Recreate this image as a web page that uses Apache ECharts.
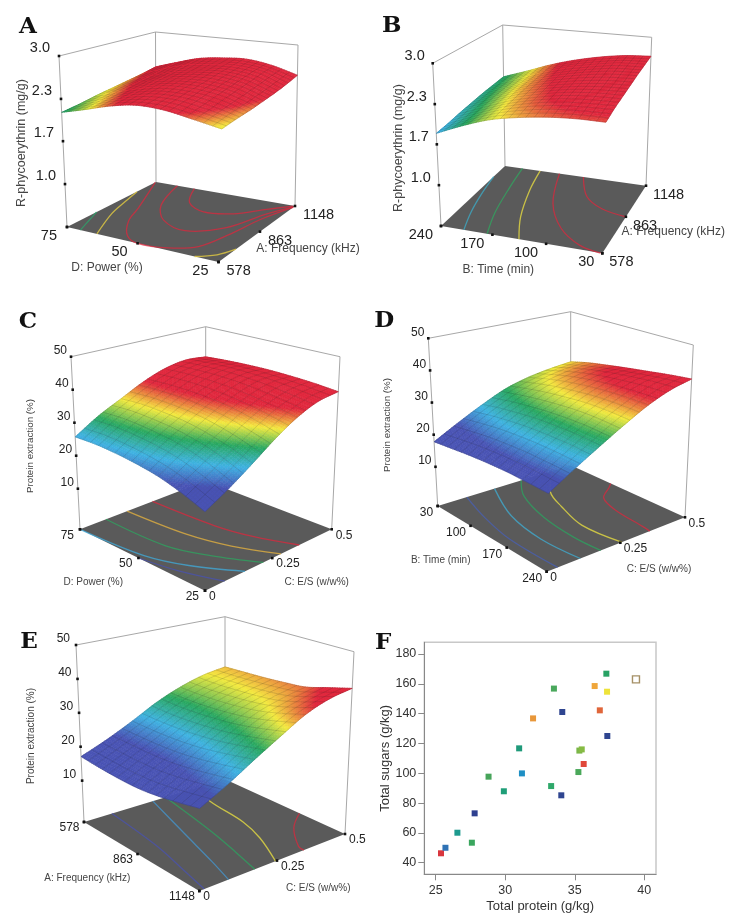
<!DOCTYPE html>
<html>
<head>
<meta charset="utf-8">
<style>html,body{margin:0;padding:0;background:#fff}#chart{width:731px;height:922px}</style>
<script src="https://cdn.jsdelivr.net/npm/echarts@6/dist/echarts.min.js"></script>
</head>
<body>
<div id="chart"></div>
<script>
// Response surfaces: each row runs along the left-to-front floor edge, rows step towards the back.
const surfaceA = [
  [2.12,2.22,2.33,2.40,2.39,2.32,2.24],
  [2.16,2.27,2.38,2.45,2.45,2.38,2.28],
  [2.21,2.32,2.43,2.50,2.50,2.44,2.31],
  [2.25,2.37,2.48,2.54,2.55,2.49,2.35],
  [2.29,2.41,2.52,2.58,2.60,2.54,2.39],
  [2.33,2.46,2.57,2.62,2.64,2.59,2.44],
  [2.38,2.50,2.61,2.66,2.68,2.62,2.50]
];
const surfaceB = [
  [1.85,2.03,2.18,2.27,2.33,2.36,2.36],
  [1.88,2.05,2.21,2.32,2.39,2.42,2.43],
  [1.92,2.08,2.24,2.35,2.43,2.47,2.48],
  [1.95,2.11,2.27,2.38,2.46,2.51,2.53],
  [1.98,2.13,2.29,2.41,2.50,2.56,2.58],
  [2.00,2.15,2.31,2.44,2.53,2.60,2.62],
  [2.02,2.17,2.33,2.46,2.56,2.63,2.66]
];
const surfaceC = [
  [25.7,25.8,25.4,24.6,23.4,21.4,18.8],
  [30.0,30.2,29.8,29.0,27.6,25.4,22.6],
  [33.4,33.7,33.4,32.8,31.5,29.6,27.0],
  [36.8,37.0,36.9,36.4,35.4,33.7,31.7],
  [39.3,39.6,39.6,39.2,38.4,37.2,35.7],
  [40.4,40.8,41.0,40.8,40.3,39.4,38.4],
  [39.8,40.3,40.6,40.7,40.5,40.1,39.4]
];
const surfaceD = [
  [17.8,18.4,19.0,19.4,19.6,19.5,19.3],
  [21.9,22.8,23.6,24.0,24.2,24.1,23.8],
  [25.7,26.8,27.6,28.2,28.4,28.4,28.0],
  [29.0,30.2,31.2,31.9,32.4,32.4,32.0],
  [31.0,32.6,33.9,34.8,35.4,35.6,35.6],
  [32.2,34.0,35.5,36.6,37.4,38.0,38.2],
  [33.0,34.6,35.8,36.9,37.9,38.9,39.7]
];
const surfaceE = [
  [17.1,16.6,16.3,16.3,16.9,18.0,19.3],
  [20.2,20.1,20.0,20.2,20.9,22.0,23.2],
  [23.8,23.7,23.8,24.2,25.0,26.2,27.6],
  [27.7,27.5,27.7,28.2,29.0,30.3,31.8],
  [30.7,30.6,30.8,31.3,32.2,33.8,35.8],
  [32.8,32.7,33.0,33.4,34.2,36.0,38.3],
  [33.9,34.2,34.5,35.0,35.7,37.6,39.5]
];

// Floor contours: response level plus a path in coded factor space (0 to 1 along each factor).
const contoursA = [
  {level:2.13, path:[[.10,0],[.05,.15],[0,.30]]},
  {level:2.26, path:[[.22,0],[.10,.32],[.045,.55],[0,.76]]},
  {level:2.40, path:[[0,.99],[.186,.49],[.26,.27],[.385,.07],[.5,0],[.68,.03],[.81,.13],[.87,.36],[.92,.68],[1,.97]]},
  {level:2.50, path:[[.17,1],[.28,.61],[.43,.39],[.63,.30],[.81,.46],[.91,.78],[1,.98]]},
  {level:2.60, path:[[.30,1],[.41,.74],[.57,.63],[.74,.69],[.87,.85],[.99,.99]]},
  {level:2.26, path:[[.86,0],[.95,.08],[1,.20]]}
];
const contoursB = [
  {level:1.90, path:[[.15,0],[.09,.23],[.04,.5],[0,.8]]},
  {level:2.05, path:[[.30,0],[.23,.28],[.17,.67],[.13,1]]},
  {level:2.22, path:[[.50,0],[.40,.28],[.31,.67],[.26,1]]},
  {level:2.42, path:[[.99,0],[.85,.05],[.68,.22],[.52,.53],[.40,1]]},
  {level:2.55, path:[[1,.50],[.83,.56],[.69,.70],[.57,1]]}
];
const contoursC = [
  {level:37.5, path:[[0,.55],[.5,.57],[.75,.62],[1,.72]]},
  {level:34.3, path:[[0,.35],[.47,.38],[.75,.45],[1,.57]]},
  {level:29.8, path:[[0,.19],[.49,.20],[.75,.29],[1,.43]]},
  {level:26.0, path:[[0,0],[.5,.04],[.75,.13],[1,.29]]},
  {level:22.0, path:[[.5,0],[.75,.05],[1,.14]]}
];
const contoursD = [
  {level:22.0, path:[[0,.20],[.3,.12],[.6,.07],[1,.07]]},
  {level:25.5, path:[[0,.40],[.37,.25],[.7,.20],[1,.22]]},
  {level:29.0, path:[[0,.60],[.2,.47],[.5,.38],[.79,.35],[1,.36]]},
  {level:32.75, path:[[0,.85],[.25,.63],[.45,.55],[.71,.48],[1,.51]]},
  {level:36.5, path:[[.38,1],[.42,.95],[.515,.82],[.68,.76],[.94,.73],[1,.72]]}
];
const contoursE = [
  {level:21.0, path:[[0,.18],[.49,.13],[.8,.07],[1,.03]]},
  {level:24.0, path:[[0,.46],[.47,.33],[.8,.24],[1,.18]]},
  {level:29.0, path:[[0,.55],[.55,.457],[.8,.40],[1,.35]]},
  {level:33.0, path:[[0,.78],[.2,.716],[.54,.675],[.75,.61],[1,.49]]},
  {level:37.0, path:[[.65,1],[.77,.84],[.95,.70],[1,.69]]}
];

// Axis ticks of the five surface plots.
const ticksPower = [75,50,25];
const ticksFrequency = [578,863,1148];
const ticksTimeDown = [240,170,100,30];
const ticksTimeUp = [30,100,170,240];
const ticksRatio = [0,0.25,0.5];
const ticksPhycoerythrin = [1.0,1.67,2.33,3.0];
const ticksExtraction = [10,20,30,40,50];

// Scatter of total protein against total sugars.
const totalProtein = [25.38,25.7,26.56,27.6,27.8,28.8,29.9,31,31.2,32,33.3,33.5,34.03,34.1,35.26,35.33,35.5,35.64,36.43,36.8,37.27,37.32,37.34,39.4];
const totalSugars = [46.3,50,60.1,53.4,73.1,97.7,87.9,116.7,99.9,136.8,91.4,156.8,85.2,141.1,100.8,115.2,116,106.2,158.5,142.2,166.8,154.7,125,163];
const sampleColors = ['#d9363e','#2f72b5','#1e9a8e','#3aa65e','#2e3f8f','#47a45a','#1f9e78','#1f9a7a','#1e8fc4','#e8973a','#2fa86a','#4aa85c','#2f4590','#2f4590','#4aa85a','#7ab648','#86bb44','#e0483a','#efa63a','#e0663a','#27a264','#eee33a','#2f4590','#ffffff'];

// Screen frame of every panel: floor corners (L, F, R, B) and the matching top corners.
const panels = [
  {letter:'A', lx:28, ly:27, surface:surfaceA, contours:contoursA, colorRange:[1.92,2.36], zRange:[0.33,3.0], zFmt:1, fineStep:3,
   L:[67,227], F:[218.5,262], R:[295,206], B:[156,182], Lt:[59,56], Ft:[223,76], Rt:[298,45], Bt:[155.5,32],
   zTicks:ticksPhycoerythrin, aTicks:ticksPower, aDomain:[75,25], bTicks:ticksFrequency, bDomain:[578,1148],
   tickFont:14.5, nameFont:12, zOff:[-9,-8], aOff:[-10,9], bOff:[8,9],
   zName:'R-phycoerythrin (mg/g)', zPos:[21.7,143], zFont:12.5,
   aName:'D: Power (%)', aPos:[107,268], bName:'A: Frequency (kHz)', bPos:[308,249]},
  {letter:'B', lx:391.7, ly:26, surface:surfaceB, contours:contoursB, colorRange:[1.7,2.39], zRange:[0.33,3.0], zFmt:1, fineStep:3,
   L:[441,226], F:[602.3,253.3], R:[646,185.7], B:[505,166], Lt:[432.7,63.3], Ft:[607,81], Rt:[651.7,37.3], Bt:[502.7,25],
   zTicks:ticksPhycoerythrin, aTicks:ticksTimeDown, aDomain:[240,30], bTicks:ticksFrequency, bDomain:[578,1148],
   tickFont:14.5, nameFont:12, zOff:[-8,-7], aOff:[-8,9], bOff:[7,9],
   zName:'R-phycoerythrin (mg/g)', zPos:[398.3,148], zFont:12.5,
   aName:'B: Time (min)', aPos:[498.3,269.3], bName:'A: Frequency (kHz)', bPos:[673.3,231.7]},
  {letter:'C', lx:28, ly:321.7, surface:surfaceC, contours:contoursC, colorRange:[22.5,37], zRange:[-2.3,50], fineStep:4,
   L:[80,529.3], F:[205,590.7], R:[331.7,529.3], B:[205.7,481], Lt:[71,356.7], Ft:[205,394.9], Rt:[340,356.7], Bt:[205.7,326.7],
   zTicks:ticksExtraction, aTicks:ticksPower, aDomain:[75,25], bTicks:ticksRatio, bDomain:[0,0.5],
   tickFont:12, nameFont:10, zOff:[-4,-6], aOff:[-6,6], bOff:[4,6],
   zName:'Protein extraction (%)', zPos:[30,446], zFont:9.8,
   aName:'D: Power (%)', aPos:[93.3,582.7], bName:'C: E/S (w/w%)', bPos:[316.7,582.7]},
  {letter:'D', lx:384.3, ly:320.7, surface:surfaceD, contours:contoursD, colorRange:[21.5,36.5], zRange:[-2.2,50], fineStep:4,
   L:[437.7,506], F:[546.7,571.7], R:[685,517.3], B:[570.7,465.3], Lt:[428.3,338.3], Ft:[550.6,381.5], Rt:[693.3,345], Bt:[570.7,311.7],
   zTicks:ticksExtraction, aTicks:ticksTimeUp, aDomain:[30,240], bTicks:ticksRatio, bDomain:[0,0.5],
   tickFont:12, nameFont:10, zOff:[-4,-6], aOff:[-4.5,7], bOff:[3.5,6],
   zName:'Protein extraction (%)', zPos:[387.7,425], zFont:9.8,
   aName:'B: Time (min)', aPos:[440.7,560], bName:'C: E/S (w/w%)', bPos:[659,569.3]},
  {letter:'E', lx:29, ly:641.7, surface:surfaceE, contours:contoursE, colorRange:[21,37], zRange:[-2.2,50], fineStep:4,
   L:[84,822], F:[199.3,891], R:[345,834], B:[225,779.3], Lt:[76,645], Ft:[200,690.4], Rt:[354,651.7], Bt:[225,616.7],
   zTicks:ticksExtraction, aTicks:ticksFrequency, aDomain:[578,1148], bTicks:ticksRatio, bDomain:[0,0.5],
   tickFont:12, nameFont:10, zOff:[-6,-6], aOff:[-4.5,6], bOff:[4,6],
   zName:'Protein extraction (%)', zPos:[31.7,736], zFont:10,
   aName:'A: Frequency (kHz)', aPos:[87.3,878.3], bName:'C: E/S (w/w%)', bPos:[318.3,888.3]}
];

const FONT = '"Liberation Sans", Arial, sans-serif';
const LETTER_FONT = 'bold 23px "DejaVu Serif", serif';
const rampStops = [[72,82,180],[62,178,226],[40,168,96],[244,234,62],[224,38,60]];
const FINE_PER_PATCH = 10;

function rampColor(t, alpha) {
  const s = Math.max(0, Math.min(0.9999, t)) * (rampStops.length - 1);
  const i = Math.floor(s), f = s - i;
  const c = rampStops[i].map((v, k) => Math.round(v + (rampStops[i + 1][k] - v) * f));
  return alpha == null ? `rgb(${c})` : `rgba(${c},${alpha})`;
}

// Projective map of the unit square onto a screen quad.
function quadMap(p00, p10, p11, p01) {
  const dx1 = p10[0] - p11[0], dx2 = p01[0] - p11[0], sx = p00[0] - p10[0] + p11[0] - p01[0];
  const dy1 = p10[1] - p11[1], dy2 = p01[1] - p11[1], sy = p00[1] - p10[1] + p11[1] - p01[1];
  const den = dx1 * dy2 - dx2 * dy1;
  const g = (sx * dy2 - dx2 * sy) / den, h = (dx1 * sy - sx * dy1) / den;
  const a1 = p10[0] - p00[0] + g * p10[0], b1 = p01[0] - p00[0] + h * p01[0];
  const a2 = p10[1] - p00[1] + g * p10[1], b2 = p01[1] - p00[1] + h * p01[1];
  return (a, b) => {
    const w = g * a + h * b + 1;
    return [(a1 * a + b1 * b + p00[0]) / w, (a2 * a + b2 * b + p00[1]) / w];
  };
}

function projector(p) {
  const floor = quadMap(p.L, p.F, p.R, p.B);
  const top = quadMap(p.Lt, p.Ft, p.Rt, p.Bt);
  return (a, b, z) => {
    const w = echarts.number.linearMap(z, p.zRange, [0, 1]);
    const f = floor(a, b), t = top(a, b);
    return [f[0] + (t[0] - f[0]) * w, f[1] + (t[1] - f[1]) * w];
  };
}

// Spline patch through the table of surface knots.
function knot(grid, r, c) {
  const n = grid.length - 1;
  const rr = Math.max(0, Math.min(n, r)), cc = Math.max(0, Math.min(n, c));
  let v = grid[rr][cc];
  if (r !== rr) v += (v - grid[r < 0 ? 1 : n - 1][cc]);
  if (c !== cc) v += (v - grid[rr][c < 0 ? 1 : n - 1]);
  return v;
}
function spline(p0, p1, p2, p3, t) {
  return 0.5 * (2 * p1 + (p2 - p0) * t + (2 * p0 - 5 * p1 + 4 * p2 - p3) * t * t + (3 * p1 - p0 - 3 * p2 + p3) * t * t * t);
}
function patchValue(grid, col, row, u, v) {
  const vals = [-1, 0, 1, 2].map(dr => spline(
    knot(grid, row + dr, col - 1), knot(grid, row + dr, col),
    knot(grid, row + dr, col + 1), knot(grid, row + dr, col + 2), u));
  return spline(vals[0], vals[1], vals[2], vals[3], v);
}

function surfaceRenderer(p) {
  const project = projector(p);
  const patches = p.surface.length - 1;
  const fineTotal = patches * FINE_PER_PATCH;
  return function (params, api) {
    const col = api.value(0), row = api.value(1);
    const z = [], pts = [];
    for (let j = 0; j <= FINE_PER_PATCH; j++) {
      z.push([]); pts.push([]);
      for (let i = 0; i <= FINE_PER_PATCH; i++) {
        const val = patchValue(p.surface, col, row, i / FINE_PER_PATCH, j / FINE_PER_PATCH);
        z[j].push(val);
        pts[j].push(project((col + i / FINE_PER_PATCH) / patches, (row + j / FINE_PER_PATCH) / patches, val));
      }
    }
    const children = [];
    for (let j = FINE_PER_PATCH - 1; j >= 0; j--) {
      for (let i = 0; i < FINE_PER_PATCH; i++) {
        const avg = (z[j][i] + z[j][i + 1] + z[j + 1][i] + z[j + 1][i + 1]) / 4;
        const color = rampColor(echarts.number.linearMap(avg, p.colorRange, [0, 1]));
        children.push({
          type: 'polygon',
          shape: {points: [pts[j][i], pts[j][i + 1], pts[j + 1][i + 1], pts[j + 1][i]]},
          style: {fill: color, stroke: color, lineWidth: 0.6}
        });
      }
    }
    const meshStyle = {fill: 'none', stroke: 'rgba(30,30,30,0.24)', lineWidth: 0.6};
    for (let i = 0; i <= FINE_PER_PATCH; i++) {
      const g = col * FINE_PER_PATCH + i;
      if (g % p.fineStep === 0 && (i < FINE_PER_PATCH || g === fineTotal)) {
        children.push({type: 'polyline', shape: {points: pts.map(r => r[i])}, style: meshStyle});
      }
    }
    for (let j = 0; j <= FINE_PER_PATCH; j++) {
      const g = row * FINE_PER_PATCH + j;
      if (g % p.fineStep === 0 && (j > 0 || g === 0)) {
        children.push({type: 'polyline', shape: {points: pts[j]}, style: meshStyle});
      }
    }
    return {type: 'group', children};
  };
}

function textEl(text, x, y, font, fill, align) {
  return {type: 'text', x, y, style: {text: String(text), x: 0, y: 0, font, fill, align: align || 'center', verticalAlign: 'middle'}};
}

function frameRenderer(p) {
  const project = projector(p);
  const z0 = p.zRange[0];
  const edge = (a, b) => ({type: 'line', shape: {x1: a[0], y1: a[1], x2: b[0], y2: b[1]}, style: {stroke: '#a8a8a8', lineWidth: 1}});
  const dot = q => ({type: 'rect', shape: {x: q[0] - 1.3, y: q[1] - 1.3, width: 2.6, height: 2.6}, style: {fill: '#111'}});
  const tickFont = `${p.tickFont}px ${FONT}`, nameFont = `${p.nameFont}px ${FONT}`;
  return function () {
    const children = [
      edge(p.L, p.Lt), edge(p.B, p.Bt), edge(p.R, p.Rt), edge(p.Lt, p.Bt), edge(p.Bt, p.Rt),
      {type: 'polygon', shape: {points: [p.L, p.F, p.R, p.B]}, style: {fill: '#5a5a5a'}}
    ];
    p.contours.forEach(c => {
      children.push({
        type: 'polyline',
        shape: {points: c.path.map(q => project(q[0], q[1], z0)), smooth: 0.35},
        style: {fill: 'none', stroke: rampColor(echarts.number.linearMap(c.level, p.colorRange, [0, 1]), 0.72), lineWidth: 1.3}
      });
    });
    children.push(dot(project(0, 0, z0)));
    p.zTicks.forEach(v => {
      const q = project(0, 0, v);
      children.push(dot(q));
      children.push(textEl(p.zFmt ? v.toFixed(p.zFmt) : v, q[0] + p.zOff[0], q[1] + p.zOff[1], tickFont, '#222', 'right'));
    });
    p.aTicks.forEach(v => {
      const q = project(echarts.number.linearMap(v, p.aDomain, [0, 1]), 0, z0);
      children.push(dot(q));
      children.push(textEl(v, q[0] + p.aOff[0], q[1] + p.aOff[1], tickFont, '#222', 'right'));
    });
    p.bTicks.forEach(v => {
      const q = project(1, echarts.number.linearMap(v, p.bDomain, [0, 1]), z0);
      children.push(dot(q));
      children.push(textEl(v, q[0] + p.bOff[0], q[1] + p.bOff[1], tickFont, '#222', 'left'));
    });
    children.push(textEl(p.aName, p.aPos[0], p.aPos[1], nameFont, '#444'));
    children.push(textEl(p.bName, p.bPos[0], p.bPos[1], nameFont, '#444'));
    const zText = textEl(p.zName, p.zPos[0], p.zPos[1], `${p.zFont}px ${FONT}`, '#444');
    zText.rotation = Math.PI / 2;
    children.push(zText);
    children.push(textEl(p.letter, p.lx, p.ly, LETTER_FONT, '#111'));
    return {type: 'group', children};
  };
}

const series = [];
panels.forEach(p => {
  series.push({type: 'custom', coordinateSystem: 'none', silent: true, animation: false, data: [[0]], renderItem: frameRenderer(p)});
  const patchItems = [];
  for (let row = p.surface.length - 2; row >= 0; row--) {
    for (let col = 0; col < p.surface[0].length - 1; col++) patchItems.push([col, row]);
  }
  series.push({type: 'custom', coordinateSystem: 'none', silent: true, animation: false, progressive: 0, data: patchItems, renderItem: surfaceRenderer(p)});
});

// Panel F goes through an ordinary cartesian grid.
series.push({
  type: 'scatter', xAxisIndex: 0, yAxisIndex: 0, symbol: 'rect', symbolSize: 6, silent: true, animation: false,
  data: totalProtein.map((x, i) => ({
    value: [x, totalSugars[i]],
    symbolSize: sampleColors[i] === '#ffffff' ? 7 : 6,
    itemStyle: sampleColors[i] === '#ffffff'
      ? {color: '#fff', borderColor: '#8f7440', borderWidth: 1.4}
      : {color: sampleColors[i], opacity: 1}
  }))
});

const axisCommon = {
  nameLocation: 'middle',
  nameTextStyle: {fontFamily: 'Liberation Sans', fontSize: 13, color: '#333'},
  axisLine: {show: true, onZero: false, lineStyle: {color: '#888', width: 1}},
  axisTick: {show: true, length: 6, lineStyle: {color: '#888'}},
  axisLabel: {fontFamily: 'Liberation Sans', fontSize: 12.5, color: '#333', margin: 8},
  splitLine: {show: false}
};
const proteinTicks = [25,30,35,40];
const sugarTicks = [40,60,80,100,120,140,160,180];

const chart = echarts.init(document.getElementById('chart'));
chart.setOption({
  animation: false,
  backgroundColor: '#fff',
  graphic: [{type: 'text', left: 375, top: 632, style: {text: 'F', font: LETTER_FONT, fill: '#111'}}],
  grid: {show: true, left: 424.3, right: 75, top: 642.3, bottom: 47.7, borderColor: '#c8c8c8', borderWidth: 1.5, backgroundColor: 'transparent'},
  xAxis: Object.assign({}, axisCommon, {
    type: 'value', min: 24.18, max: 40.84, name: 'Total protein (g/kg)', nameGap: 26,
    axisTick: Object.assign({}, axisCommon.axisTick, {customValues: proteinTicks}),
    axisLabel: Object.assign({}, axisCommon.axisLabel, {customValues: proteinTicks, margin: 10})
  }),
  yAxis: Object.assign({}, axisCommon, {
    type: 'value', min: 32.2, max: 187.85, name: 'Total sugars (g/kg)', nameGap: 16,
    axisTick: Object.assign({}, axisCommon.axisTick, {customValues: sugarTicks}),
    axisLabel: Object.assign({}, axisCommon.axisLabel, {customValues: sugarTicks})
  }),
  series
});
</script>
</body>
</html>
